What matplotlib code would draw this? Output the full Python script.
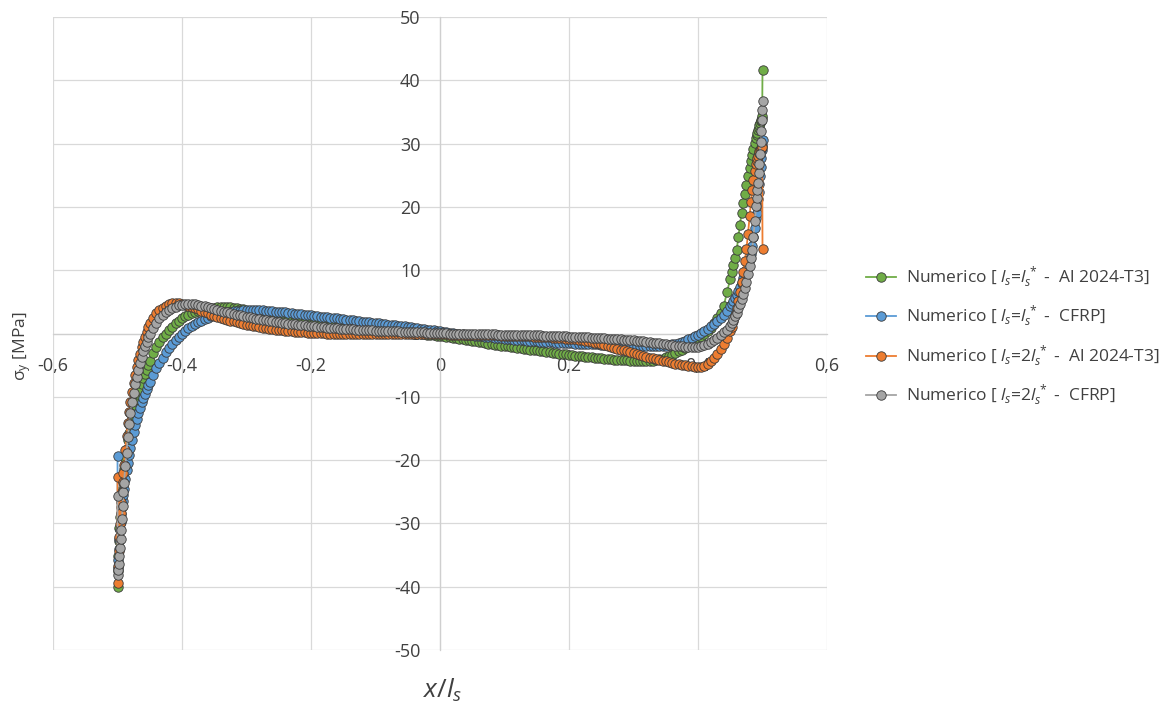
import matplotlib
matplotlib.use('Agg')
import matplotlib.pyplot as plt

# ---------------- data ----------------
x_nodes = [
    -0.5, -0.4995, -0.499, -0.498, -0.497, -0.496, -0.495, -0.494, -0.493, -0.492,
    -0.491, -0.49, -0.488, -0.486, -0.484, -0.482, -0.48, -0.4775, -0.475, -0.4725,
    -0.47, -0.4675, -0.465, -0.4625, -0.46, -0.4575, -0.455, -0.4525,
    -0.45, -0.445, -0.44, -0.435, -0.43, -0.425, -0.42, -0.415, -0.41, -0.405,
    -0.4, -0.395, -0.39, -0.385, -0.38, -0.375, -0.37, -0.365, -0.36, -0.355,
    -0.35, -0.345, -0.34, -0.335, -0.33, -0.325, -0.32, -0.315, -0.31, -0.305,
    -0.3, -0.295, -0.29, -0.285, -0.28, -0.275, -0.27, -0.265, -0.26, -0.255,
    -0.25, -0.245, -0.24, -0.235, -0.23, -0.225, -0.22, -0.215, -0.21, -0.205,
    -0.2, -0.195, -0.19, -0.185, -0.18, -0.175, -0.17, -0.165, -0.16, -0.155,
    -0.15, -0.145, -0.14, -0.135, -0.13, -0.125, -0.12, -0.115, -0.11, -0.105,
    -0.1, -0.095, -0.09, -0.085, -0.08, -0.075, -0.07, -0.065, -0.06, -0.055,
    -0.05, -0.045, -0.04, -0.035, -0.03, -0.025, -0.02, -0.015, -0.01, -0.005,
    0.0, 0.005, 0.01, 0.015, 0.02, 0.025, 0.03, 0.035, 0.04, 0.045,
    0.05, 0.055, 0.06, 0.065, 0.07, 0.075, 0.08, 0.085, 0.09, 0.095,
    0.1, 0.105, 0.11, 0.115, 0.12, 0.125, 0.13, 0.135, 0.14, 0.145,
    0.15, 0.155, 0.16, 0.165, 0.17, 0.175, 0.18, 0.185, 0.19, 0.195,
    0.2, 0.205, 0.21, 0.215, 0.22, 0.225, 0.23, 0.235, 0.24, 0.245,
    0.25, 0.255, 0.26, 0.265, 0.27, 0.275, 0.28, 0.285, 0.29, 0.295,
    0.3, 0.305, 0.31, 0.315, 0.32, 0.325, 0.33, 0.335, 0.34, 0.345,
    0.35, 0.355, 0.36, 0.365, 0.37, 0.375, 0.38, 0.385, 0.39, 0.395,
    0.4, 0.405, 0.41, 0.415, 0.42, 0.425, 0.43, 0.435, 0.44, 0.445,
    0.45,
    0.4525, 0.455, 0.4575, 0.46, 0.4625, 0.465, 0.4675, 0.47, 0.4725, 0.475,
    0.4775, 0.48, 0.482, 0.484, 0.486, 0.488, 0.49, 0.491, 0.492, 0.493,
    0.494, 0.495, 0.496, 0.497, 0.498, 0.499, 0.4995, 0.5,
]

y_al_ls = [  # Numerico [ls=ls* - Al 2024-T3]
    -40.0, -37.5, -35.2, -32.8, -30.8, -29.0, -27.4, -26.0, -24.7, -23.5,
    -22.4, -21.4, -19.7, -18.2, -16.9, -15.7, -14.6, -13.4, -12.3, -11.3,
    -10.4, -9.5, -8.7, -7.9, -7.1, -6.4, -5.7, -5.0,
    -4.3, -3.1, -2.1, -1.3, -0.6, 0.0, 0.6, 1.1, 1.6, 2.0,
    2.4, 2.7, 3.0, 3.25, 3.45, 3.6, 3.75, 3.85, 3.95, 4.05,
    4.1, 4.15, 4.2, 4.2, 4.2, 4.15, 4.1, 4.0, 3.9, 3.8,
    3.6, 3.45, 3.3, 3.15, 3.0, 2.9, 2.8, 2.7, 2.6, 2.5,
    2.4, 2.32, 2.25, 2.18, 2.1, 2.03, 1.96, 1.9, 1.83, 1.77,
    1.7, 1.64, 1.58, 1.52, 1.46, 1.4, 1.34, 1.28, 1.22, 1.16,
    1.1, 1.05, 1.0, 0.95, 0.9, 0.85, 0.8, 0.75, 0.7, 0.65,
    0.6, 0.55, 0.5, 0.45, 0.4, 0.35, 0.3, 0.25, 0.2, 0.15,
    0.1, 0.05, 0.0, -0.05, -0.1, -0.15, -0.2, -0.25, -0.3, -0.35,
    -0.4, -0.47, -0.54, -0.62, -0.7, -0.78, -0.86, -0.94, -1.02, -1.1,
    -1.18, -1.26, -1.34, -1.42, -1.5, -1.58, -1.66, -1.74, -1.82, -1.9,
    -1.97, -2.04, -2.11, -2.18, -2.25, -2.32, -2.39, -2.46, -2.53, -2.6,
    -2.67, -2.74, -2.81, -2.88, -2.95, -3.02, -3.09, -3.16, -3.23, -3.3,
    -3.37, -3.44, -3.5, -3.56, -3.62, -3.68, -3.73, -3.78, -3.83, -3.88,
    -3.93, -3.98, -4.03, -4.07, -4.11, -4.15, -4.19, -4.22, -4.25, -4.28,
    -4.3, -4.32, -4.34, -4.35, -4.35, -4.34, -4.3, -4.22, -4.1, -3.95,
    -3.78, -3.58, -3.35, -3.1, -2.83, -2.55, -2.25, -1.95, -1.6, -1.25,
    -0.88, -0.5, -0.1, 0.35, 0.9, 1.6, 2.4, 3.3, 4.4, 6.5,
    8.6,
    9.7, 10.8, 12.0, 13.2, 15.2, 17.2, 19.0, 20.6, 22.0, 23.5,
    24.9, 26.2, 27.2, 28.2, 29.2, 30.1, 30.9, 31.3, 31.7, 32.1,
    32.5, 32.9, 33.2, 33.5, 33.8, 34.1, 34.4, 41.7,
]

y_cfrp_ls = [  # Numerico [ls=ls* - CFRP]
    -19.3, -37.0, -35.8, -34.0, -32.4, -31.0, -29.7, -28.5, -27.4, -26.4,
    -25.5, -24.6, -23.0, -21.6, -20.4, -19.2, -18.1, -16.8, -15.6, -14.5,
    -13.5, -12.6, -11.7, -10.9, -10.2, -9.5, -8.8, -8.2,
    -7.6, -6.5, -5.5, -4.6, -3.8, -3.0, -2.3, -1.6, -1.0, -0.5,
    0.0, 0.45, 0.85, 1.2, 1.5, 1.8, 2.05, 2.3, 2.5, 2.7,
    2.85, 3.0, 3.12, 3.23, 3.33, 3.42, 3.5, 3.56, 3.61, 3.65,
    3.68, 3.7, 3.7, 3.69, 3.67, 3.64, 3.6, 3.56, 3.52, 3.47,
    3.42, 3.37, 3.32, 3.27, 3.21, 3.15, 3.09, 3.03, 2.97, 2.91,
    2.85, 2.79, 2.73, 2.67, 2.61, 2.55, 2.49, 2.43, 2.37, 2.31,
    2.25, 2.19, 2.13, 2.07, 2.01, 1.95, 1.89, 1.83, 1.77, 1.71,
    1.65, 1.59, 1.53, 1.47, 1.41, 1.35, 1.29, 1.23, 1.17, 1.11,
    1.05, 0.98, 0.91, 0.84, 0.77, 0.7, 0.63, 0.56, 0.49, 0.42,
    0.35, 0.28, 0.21, 0.14, 0.07, 0.0, -0.06, -0.12, -0.18, -0.24,
    -0.3, -0.35, -0.4, -0.45, -0.5, -0.55, -0.6, -0.65, -0.7, -0.75,
    -0.8, -0.85, -0.9, -0.95, -1.0, -1.05, -1.1, -1.14, -1.18, -1.22,
    -1.26, -1.3, -1.33, -1.36, -1.39, -1.42, -1.45, -1.48, -1.5, -1.52,
    -1.54, -1.56, -1.58, -1.6, -1.62, -1.64, -1.66, -1.68, -1.7, -1.72,
    -1.74, -1.76, -1.78, -1.8, -1.82, -1.84, -1.86, -1.88, -1.9, -1.92,
    -1.94, -1.96, -1.98, -2.0, -2.02, -2.03, -2.03, -2.02, -2.0, -1.96,
    -1.9, -1.82, -1.72, -1.6, -1.46, -1.3, -1.12, -0.92, -0.7, -0.46,
    -0.2, 0.1, 0.42, 0.77, 1.15, 1.56, 2.0, 2.48, 3.0, 3.6,
    4.3,
    4.7, 5.1, 5.6, 6.1, 6.7, 7.3, 8.0, 8.7, 9.4, 10.1,
    10.9, 11.8, 12.6, 13.8, 15.2, 16.6, 18.2, 19.1, 20.1, 21.2,
    22.4, 23.6, 24.9, 26.3, 27.7, 29.0, 29.8, 30.5,
]

y_al_2ls = [  # Numerico [ls=2ls* - Al 2024-T3]
    -22.7, -39.4, -36.7, -34.3, -32.1, -30.1, -28.3, -26.6, -25.0, -23.5,
    -22.1, -20.8, -18.4, -16.2, -14.2, -12.4, -10.8, -9.2, -7.8, -6.5,
    -5.3, -4.2, -3.2, -2.2, -1.3, -0.5, 0.3, 1.0,
    1.6, 2.5, 3.2, 3.7, 4.1, 4.4, 4.6, 4.75, 4.8, 4.8,
    4.7, 4.55, 4.4, 4.2, 4.0, 3.8, 3.6, 3.4, 3.2, 3.0,
    2.8, 2.65, 2.5, 2.35, 2.2, 2.05, 1.9, 1.78, 1.66, 1.54,
    1.42, 1.32, 1.22, 1.12, 1.03, 0.94, 0.86, 0.78, 0.7, 0.63,
    0.56, 0.5, 0.44, 0.38, 0.33, 0.28, 0.24, 0.2, 0.16, 0.13,
    0.1, 0.07, 0.05, 0.03, 0.01, 0.0, -0.01, -0.02, -0.03, -0.04,
    -0.05, -0.06, -0.07, -0.07, -0.08, -0.08, -0.09, -0.09, -0.1, -0.1,
    -0.1, -0.1, -0.1, -0.1, -0.1, -0.1, -0.1, -0.1, -0.1, -0.1,
    -0.1, -0.1, -0.1, -0.1, -0.1, -0.11, -0.11, -0.12, -0.12, -0.13,
    -0.13, -0.14, -0.15, -0.16, -0.17, -0.18, -0.19, -0.2, -0.21, -0.22,
    -0.23, -0.24, -0.25, -0.26, -0.27, -0.28, -0.29, -0.3, -0.31, -0.32,
    -0.33, -0.34, -0.35, -0.37, -0.39, -0.41, -0.43, -0.45, -0.47, -0.49,
    -0.51, -0.53, -0.56, -0.59, -0.62, -0.65, -0.68, -0.71, -0.75, -0.79,
    -0.83, -0.88, -0.94, -1.0, -1.07, -1.15, -1.24, -1.34, -1.45, -1.57,
    -1.7, -1.84, -1.98, -2.12, -2.26, -2.4, -2.54, -2.68, -2.82, -2.96,
    -3.1, -3.24, -3.38, -3.52, -3.66, -3.8, -3.93, -4.06, -4.18, -4.3,
    -4.42, -4.54, -4.65, -4.76, -4.86, -4.95, -5.04, -5.12, -5.19, -5.25,
    -5.3, -5.28, -5.1, -4.75, -4.3, -3.8, -3.2, -2.5, -1.7, -0.7,
    0.4,
    1.1, 1.9, 2.9, 4.0, 5.2, 6.6, 8.1, 9.7, 11.4, 13.3,
    15.7, 18.5, 20.7, 22.6, 24.3, 25.6, 26.7, 27.2, 27.7, 28.1,
    28.5, 28.8, 29.0, 29.2, 29.3, 29.4, 29.5, 13.3,
]

y_cfrp_2ls = [  # Numerico [ls=2ls* - CFRP]
    -25.6, -38.2, -37.4, -36.4, -35.2, -33.9, -32.5, -31.0, -29.3, -27.2,
    -25.0, -23.6, -21.0, -18.8, -16.4, -14.3, -12.5, -10.8, -9.4, -8.0,
    -6.8, -5.7, -4.6, -3.7, -2.8, -2.0, -1.3, -0.6,
    0.0, 0.9, 1.7, 2.4, 2.9, 3.35, 3.7, 4.0, 4.25, 4.45,
    4.58, 4.65, 4.68, 4.66, 4.6, 4.52, 4.42, 4.3, 4.18, 4.05,
    3.85, 3.72, 3.58, 3.45, 3.32, 3.2, 3.08, 2.96, 2.85, 2.74,
    2.63, 2.53, 2.43, 2.33, 2.24, 2.15, 2.06, 1.98, 1.9, 1.82,
    1.75, 1.68, 1.61, 1.55, 1.49, 1.43, 1.37, 1.32, 1.27, 1.22,
    1.17, 1.12, 1.07, 1.02, 0.98, 0.94, 0.9, 0.86, 0.82, 0.78,
    0.75, 0.72, 0.69, 0.66, 0.63, 0.6, 0.57, 0.54, 0.51, 0.48,
    0.46, 0.44, 0.42, 0.4, 0.38, 0.36, 0.34, 0.32, 0.3, 0.28,
    0.26, 0.24, 0.22, 0.2, 0.18, 0.16, 0.14, 0.12, 0.1, 0.08,
    0.06, 0.04, 0.02, 0.0, -0.02, -0.03, -0.04, -0.05, -0.06, -0.07,
    -0.08, -0.09, -0.1, -0.11, -0.12, -0.13, -0.14, -0.15, -0.16, -0.17,
    -0.18, -0.19, -0.2, -0.21, -0.22, -0.23, -0.24, -0.25, -0.26, -0.27,
    -0.28, -0.3, -0.32, -0.34, -0.36, -0.38, -0.4, -0.42, -0.44, -0.46,
    -0.48, -0.5, -0.52, -0.54, -0.56, -0.58, -0.61, -0.64, -0.67, -0.7,
    -0.73, -0.76, -0.79, -0.82, -0.86, -0.9, -0.94, -0.98, -1.02, -1.06,
    -1.1, -1.15, -1.2, -1.26, -1.32, -1.38, -1.44, -1.5, -1.57, -1.64,
    -1.71, -1.78, -1.85, -1.92, -1.98, -2.03, -2.07, -2.1, -2.11, -2.1,
    -2.06, -1.98, -1.85, -1.65, -1.38, -1.05, -0.65, -0.2, 0.25, 0.6,
    1.2,
    1.6, 2.1, 2.7, 3.3, 4.0, 4.7, 5.5, 6.3, 7.2, 8.2,
    9.4, 10.7, 11.9, 13.2, 15.3, 17.8, 20.2, 21.4, 22.6, 23.8,
    25.3, 26.8, 28.4, 30.2, 32.0, 33.8, 35.3, 36.8,
]

series_labels = [
    r'Numerico [ $l_s$=$l_s^{\,*}$ -  Al 2024-T3]',
    r'Numerico [ $l_s$=$l_s^{\,*}$ -  CFRP]',
    r'Numerico [ $l_s$=2$l_s^{\,*}$ -  Al 2024-T3]',
    r'Numerico [ $l_s$=2$l_s^{\,*}$ -  CFRP]',
]
series_colors = ['#70AD47', '#5B9BD5', '#ED7D31', '#A5A5A5']

x_ticks = [-0.6, -0.4, -0.2, 0.0, 0.2, 0.4, 0.6]
x_tick_labels = ['-0,6', '-0,4', '-0,2', '0', '0,2', '0,4', '0,6']
y_ticks = [-50, -40, -30, -20, -10, 0, 10, 20, 30, 40, 50]
y_tick_labels = ['-50', '-40', '-30', '-20', '-10', '0', '10', '20', '30', '40', '50']

all_y = [y_al_ls, y_cfrp_ls, y_al_2ls, y_cfrp_2ls]
for ys in all_y:
    assert len(ys) == len(x_nodes), (len(ys), len(x_nodes))

# ---------------- style ----------------
plt.rcParams['font.family'] = ['Open Sans', 'DejaVu Sans']
plt.rcParams['mathtext.fontset'] = 'custom'
plt.rcParams['mathtext.rm'] = 'Open Sans'
plt.rcParams['mathtext.it'] = 'Open Sans:italic'
plt.rcParams['mathtext.bf'] = 'Open Sans:bold'

W, H = 1173, 711
fig = plt.figure(figsize=(W / 100, H / 100), dpi=100)
fig.patch.set_facecolor('white')
ax = fig.add_axes([53 / W, (H - 650) / H, 774 / W, 633 / H])

grid_c = '#D9D9D9'
ax.set_xlim(-0.6, 0.6)
ax.set_ylim(-50, 50)
ax.set_xticks(x_ticks)
ax.set_xticklabels(x_tick_labels)
ax.set_yticks(y_ticks)
ax.set_yticklabels(y_tick_labels)
ax.grid(True, color=grid_c, linewidth=0.9)
ax.set_axisbelow(True)
for s in ['top', 'right']:
    ax.spines[s].set_visible(False)
ax.spines['left'].set_position(('data', 0))
ax.spines['bottom'].set_position(('data', 0))
for s in ['left', 'bottom']:
    ax.spines[s].set_color('#CFCFCF')
    ax.spines[s].set_linewidth(0.9)
ax.tick_params(axis='x', length=0, pad=17, labelsize=13, labelcolor='#404040')
ax.tick_params(axis='y', length=0, pad=14, labelsize=13, labelcolor='#404040')

handles = []
for ys, c, lab in zip(all_y, series_colors, series_labels):
    h, = ax.plot(x_nodes, ys, '-', color=c, lw=1.3, marker='o', ms=6.8,
                 mfc=c, mec='#3A3A3A', mew=0.6, label=lab, zorder=3)
    handles.append(h)

fig.text(443 / W, 1 - 690 / H, r'$x/l_s$', fontsize=19, ha='center', va='center',
         color='#404040')
fig.text(22 / W, 1 - 346 / H, r'σ$_\mathregular{y}$ [MPa]', fontsize=12.5,
         rotation=90, ha='center', va='center', color='#404040')

fig.legend(handles, series_labels, loc='center left',
           bbox_to_anchor=(866 / W, 1 - 337 / H), frameon=False, fontsize=12.5,
           handlelength=1.7, handletextpad=0.6, labelspacing=0.75,
           borderpad=0, borderaxespad=0, labelcolor='#404040')

fig.savefig('out.png', dpi=100)
